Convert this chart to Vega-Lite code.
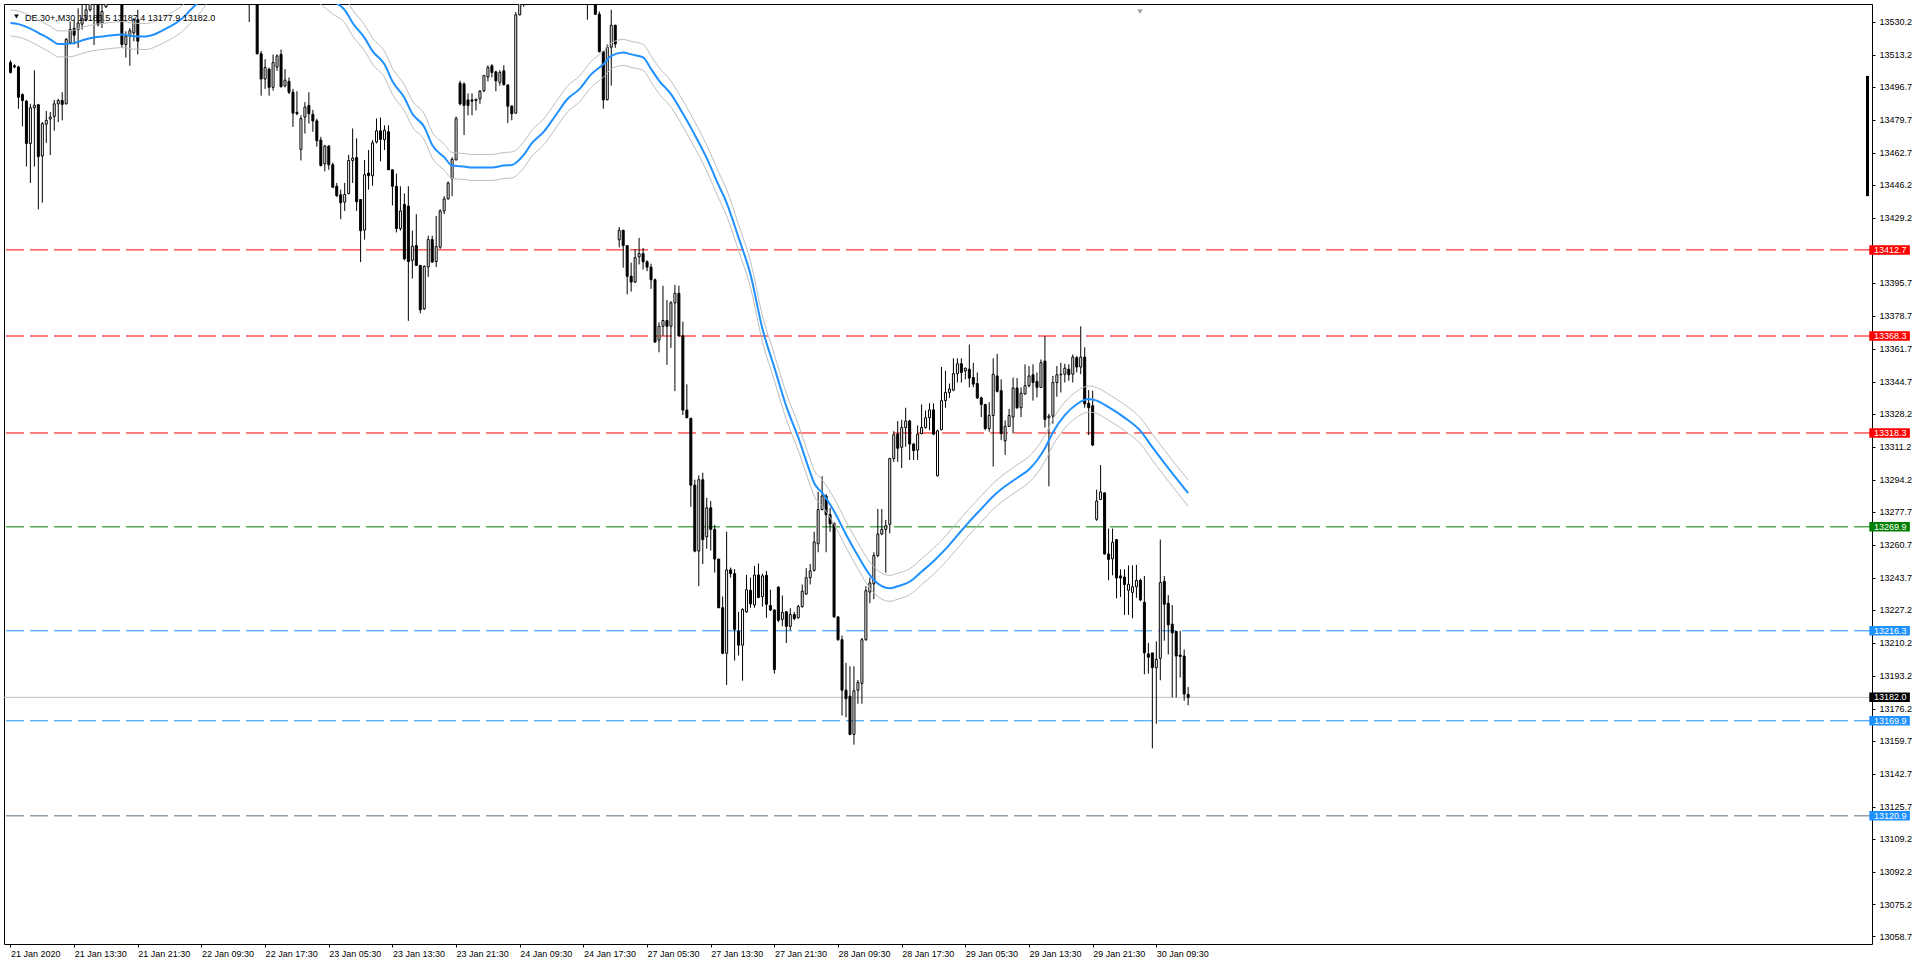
{
"$schema":"https://vega.github.io/schema/vega-lite/v6.json",
"width":1868,"height":940,
"autosize":{"type":"none"},
"padding":{"left":4,"top":4,"right":48,"bottom":23},
"background":"#ffffff",
"config":{"view":{"stroke":"#000000","strokeWidth":1},"font":"Liberation Sans"},
"resolve":{"axis":{"x":"independent","y":"independent"}},
"datasets":{
"candles":[
{"i":0,"o":13509.3,"h":13510.4,"l":13503.6,"c":13504.2},
{"i":1,"o":13507.6,"h":13508.4,"l":13506.4,"c":13507.0},
{"i":2,"o":13507.0,"h":13507.6,"l":13485.5,"c":13491.4},
{"i":3,"o":13492.8,"h":13493.4,"l":13476.4,"c":13489.7},
{"i":4,"o":13489.4,"h":13490.0,"l":13455.7,"c":13467.6},
{"i":5,"o":13467.6,"h":13488.0,"l":13447.2,"c":13486.0},
{"i":6,"o":13486.0,"h":13505.3,"l":13455.7,"c":13487.3},
{"i":7,"o":13487.5,"h":13488.0,"l":13433.6,"c":13460.8},
{"i":8,"o":13461.1,"h":13478.6,"l":13437.0,"c":13477.8},
{"i":9,"o":13477.5,"h":13484.3,"l":13467.9,"c":13479.5},
{"i":10,"o":13480.2,"h":13483.8,"l":13461.6,"c":13481.2},
{"i":11,"o":13481.5,"h":13490.0,"l":13474.1,"c":13488.0},
{"i":12,"o":13488.0,"h":13490.6,"l":13478.6,"c":13489.7},
{"i":13,"o":13489.7,"h":13494.0,"l":13479.5,"c":13487.7},
{"i":14,"o":13488.0,"h":13522.0,"l":13487.7,"c":13521.2},
{"i":15,"o":13519.5,"h":13530.5,"l":13518.9,"c":13526.3},
{"i":16,"o":13526.8,"h":13531.4,"l":13518.6,"c":13523.4},
{"i":17,"o":13526.3,"h":13537.3,"l":13516.9,"c":13529.7},
{"i":18,"o":13529.1,"h":13539.0,"l":13526.3,"c":13531.9},
{"i":19,"o":13531.4,"h":13542.4,"l":13530.5,"c":13536.5},
{"i":20,"o":13536.5,"h":13545.8,"l":13535.6,"c":13542.4},
{"i":21,"o":13542.4,"h":13545.0,"l":13518.3,"c":13541.0},
{"i":22,"o":13541.0,"h":13542.0,"l":13527.9,"c":13528.8},
{"i":23,"o":13529.7,"h":13539.0,"l":13527.1,"c":13535.6},
{"i":24,"o":13538.0,"h":13550.0,"l":13537.5,"c":13546.0},
{"i":25,"o":13546.0,"h":13556.0,"l":13543.0,"c":13552.0},
{"i":26,"o":13552.0,"h":13557.0,"l":13544.0,"c":13548.0},
{"i":27,"o":13548.0,"h":13551.0,"l":13540.0,"c":13545.0},
{"i":28,"o":13545.0,"h":13547.0,"l":13516.9,"c":13518.6},
{"i":29,"o":13518.6,"h":13525.4,"l":13511.8,"c":13522.9},
{"i":30,"o":13522.9,"h":13527.1,"l":13507.6,"c":13525.7},
{"i":31,"o":13524.6,"h":13532.2,"l":13520.3,"c":13531.4},
{"i":32,"o":13531.4,"h":13536.5,"l":13513.5,"c":13520.3},
{"i":33,"o":13548,"h":13558,"l":13545,"c":13555},
{"i":34,"o":13555,"h":13563,"l":13552,"c":13560},
{"i":35,"o":13560,"h":13564,"l":13554,"c":13557},
{"i":36,"o":13557,"h":13566,"l":13555,"c":13562},
{"i":37,"o":13562,"h":13571,"l":13560,"c":13568},
{"i":38,"o":13568,"h":13572,"l":13562,"c":13565},
{"i":39,"o":13565,"h":13574,"l":13563,"c":13570},
{"i":40,"o":13570,"h":13579,"l":13567,"c":13575},
{"i":41,"o":13575,"h":13578,"l":13569,"c":13572},
{"i":42,"o":13572,"h":13582,"l":13570,"c":13578},
{"i":43,"o":13578,"h":13581,"l":13571,"c":13574},
{"i":44,"o":13574,"h":13577,"l":13566,"c":13569},
{"i":45,"o":13569,"h":13575,"l":13565,"c":13572},
{"i":46,"o":13572,"h":13574,"l":13563,"c":13566},
{"i":47,"o":13566,"h":13569,"l":13558,"c":13561},
{"i":48,"o":13561,"h":13567,"l":13557,"c":13564},
{"i":49,"o":13564,"h":13566,"l":13555,"c":13558},
{"i":50,"o":13558,"h":13565,"l":13554,"c":13562},
{"i":51,"o":13562,"h":13570,"l":13559,"c":13567},
{"i":52,"o":13567,"h":13570,"l":13560,"c":13563},
{"i":53,"o":13563,"h":13566,"l":13555,"c":13558},
{"i":54,"o":13558,"h":13561,"l":13550,"c":13553},
{"i":55,"o":13553,"h":13559,"l":13549,"c":13556},
{"i":56,"o":13556,"h":13558,"l":13547,"c":13551},
{"i":57,"o":13551,"h":13554,"l":13544,"c":13547},
{"i":58,"o":13547,"h":13553,"l":13543,"c":13550},
{"i":59,"o":13550,"h":13552,"l":13541,"c":13545},
{"i":60,"o":13545,"h":13548,"l":13530.2,"c":13542},
{"i":61,"o":13542,"h":13549,"l":13539,"c":13546},
{"i":62,"o":13546,"h":13548,"l":13513.5,"c":13513.8},
{"i":63,"o":13513.8,"h":13515.2,"l":13492.2,"c":13500.8},
{"i":64,"o":13500.8,"h":13511.0,"l":13495.7,"c":13506.7},
{"i":65,"o":13505.9,"h":13506.7,"l":13492.2,"c":13496.5},
{"i":66,"o":13496.5,"h":13513.5,"l":13494.8,"c":13509.3},
{"i":67,"o":13507.0,"h":13513.5,"l":13505.0,"c":13512.7},
{"i":68,"o":13513.5,"h":13516.0,"l":13496.5,"c":13496.8},
{"i":69,"o":13497.3,"h":13505.9,"l":13496.5,"c":13500.2},
{"i":70,"o":13499.6,"h":13501.6,"l":13493.1,"c":13494.0},
{"i":71,"o":13494.0,"h":13495.7,"l":13476.1,"c":13483.2},
{"i":72,"o":13483.6,"h":13494.5,"l":13482.1,"c":13482.9},
{"i":73,"o":13464.5,"h":13482.1,"l":13458.8,"c":13480.4},
{"i":74,"o":13481.2,"h":13488.9,"l":13472.7,"c":13486.3},
{"i":75,"o":13487.2,"h":13494.0,"l":13477.8,"c":13482.9},
{"i":76,"o":13482.6,"h":13484.9,"l":13473.6,"c":13479.2},
{"i":77,"o":13479.2,"h":13480.4,"l":13465.9,"c":13469.0},
{"i":78,"o":13469.3,"h":13471.0,"l":13455.7,"c":13456.2},
{"i":79,"o":13457.1,"h":13466.8,"l":13453.2,"c":13466.2},
{"i":80,"o":13466.2,"h":13466.8,"l":13454.0,"c":13456.6},
{"i":81,"o":13456.6,"h":13457.7,"l":13444.7,"c":13445.0},
{"i":82,"o":13445.5,"h":13447.2,"l":13439.9,"c":13440.7},
{"i":83,"o":13441.1,"h":13443.8,"l":13428.5,"c":13437.0},
{"i":84,"o":13437.3,"h":13447.2,"l":13432.8,"c":13441.3},
{"i":85,"o":13441.8,"h":13461.7,"l":13441.3,"c":13458.8},
{"i":86,"o":13458.8,"h":13475.3,"l":13447.2,"c":13460.0},
{"i":87,"o":13460.3,"h":13470.2,"l":13432.8,"c":13437.5},
{"i":88,"o":13438.7,"h":13438.7,"l":13406.4,"c":13422.6},
{"i":89,"o":13422.9,"h":13459.1,"l":13418.0,"c":13451.5},
{"i":90,"o":13452.3,"h":13464.2,"l":13443.8,"c":13450.9},
{"i":91,"o":13450.9,"h":13469.3,"l":13445.8,"c":13467.9},
{"i":92,"o":13468.3,"h":13480.4,"l":13467.6,"c":13474.1},
{"i":93,"o":13474.1,"h":13480.9,"l":13458.3,"c":13469.6},
{"i":94,"o":13469.6,"h":13476.9,"l":13464.2,"c":13474.4},
{"i":95,"o":13473.6,"h":13476.9,"l":13454.0,"c":13454.0},
{"i":96,"o":13454.0,"h":13454.0,"l":13435.6,"c":13445.5},
{"i":97,"o":13445.5,"h":13452.0,"l":13421.7,"c":13423.7},
{"i":98,"o":13423.7,"h":13445.5,"l":13422.6,"c":13432.8},
{"i":99,"o":13436.2,"h":13441.8,"l":13407.3,"c":13408.1},
{"i":100,"o":13435.3,"h":13445.5,"l":13376.1,"c":13406.7},
{"i":101,"o":13407.3,"h":13422.6,"l":13397.9,"c":13414.6},
{"i":102,"o":13414.9,"h":13431.1,"l":13404.7,"c":13404.7},
{"i":103,"o":13404.7,"h":13404.7,"l":13380.0,"c":13381.8},
{"i":104,"o":13382.3,"h":13404.7,"l":13381.8,"c":13404.2},
{"i":105,"o":13403.9,"h":13420.0,"l":13398.8,"c":13418.0},
{"i":106,"o":13418.0,"h":13420.0,"l":13406.1,"c":13406.4},
{"i":107,"o":13406.7,"h":13430.2,"l":13403.9,"c":13414.4},
{"i":108,"o":13414.1,"h":13433.6,"l":13413.2,"c":13432.8},
{"i":109,"o":13432.8,"h":13440.4,"l":13431.1,"c":13439.0},
{"i":110,"o":13439.0,"h":13448.0,"l":13438.7,"c":13447.2},
{"i":111,"o":13449.4,"h":13460.5,"l":13440.4,"c":13459.4},
{"i":112,"o":13459.1,"h":13481.5,"l":13458.8,"c":13480.4},
{"i":113,"o":13498.7,"h":13499.9,"l":13487.2,"c":13488.0},
{"i":114,"o":13498.2,"h":13499.1,"l":13471.9,"c":13487.2},
{"i":115,"o":13490.0,"h":13493.4,"l":13482.1,"c":13487.2},
{"i":116,"o":13490.0,"h":13493.4,"l":13482.1,"c":13489.4},
{"i":117,"o":13489.7,"h":13490.6,"l":13484.6,"c":13490.4},
{"i":118,"o":13490.6,"h":13495.1,"l":13488.0,"c":13494.5},
{"i":119,"o":13494.8,"h":13503.0,"l":13494.0,"c":13502.5},
{"i":120,"o":13501.9,"h":13507.9,"l":13499.6,"c":13506.7},
{"i":121,"o":13507.6,"h":13508.4,"l":13501.6,"c":13504.2},
{"i":122,"o":13504.5,"h":13505.0,"l":13494.5,"c":13499.9},
{"i":123,"o":13499.1,"h":13505.3,"l":13497.4,"c":13504.2},
{"i":124,"o":13505.0,"h":13507.9,"l":13497.4,"c":13497.9},
{"i":125,"o":13497.7,"h":13498.2,"l":13478.1,"c":13486.8},
{"i":126,"o":13486.8,"h":13487.2,"l":13479.5,"c":13482.9},
{"i":127,"o":13483.2,"h":13535.3,"l":13482.9,"c":13533.9},
{"i":128,"o":13533.9,"h":13545.0,"l":13533.6,"c":13541.0},
{"i":129,"o":13541,"h":13552,"l":13538,"c":13548},
{"i":130,"o":13548,"h":13558,"l":13545,"c":13555},
{"i":131,"o":13555,"h":13559,"l":13547,"c":13551},
{"i":132,"o":13551,"h":13562,"l":13549,"c":13558},
{"i":133,"o":13558,"h":13566,"l":13555,"c":13563},
{"i":134,"o":13563,"h":13567,"l":13556,"c":13560},
{"i":135,"o":13560,"h":13570,"l":13558,"c":13566},
{"i":136,"o":13566,"h":13573,"l":13562,"c":13570},
{"i":137,"o":13570,"h":13574,"l":13561,"c":13565},
{"i":138,"o":13565,"h":13568,"l":13557,"c":13561},
{"i":139,"o":13561,"h":13567,"l":13556,"c":13564},
{"i":140,"o":13564,"h":13566,"l":13554,"c":13558},
{"i":141,"o":13558,"h":13561,"l":13549,"c":13553},
{"i":142,"o":13553,"h":13559,"l":13548,"c":13556},
{"i":143,"o":13556,"h":13558,"l":13546,"c":13550},
{"i":144,"o":13550,"h":13553,"l":13541,"c":13545},
{"i":145,"o":13545,"h":13548,"l":13531.4,"c":13542},
{"i":146,"o":13542,"h":13549,"l":13539,"c":13546},
{"i":147,"o":13546,"h":13548,"l":13533.9,"c":13534.2},
{"i":148,"o":13534.2,"h":13535.6,"l":13514.5,"c":13514.9},
{"i":149,"o":13514.9,"h":13515.2,"l":13485.5,"c":13490.0},
{"i":150,"o":13490.2,"h":13518.6,"l":13489.7,"c":13517.2},
{"i":151,"o":13517.2,"h":13536.5,"l":13497.4,"c":13528.5},
{"i":152,"o":13528.5,"h":13528.8,"l":13516.9,"c":13518.9},
{"i":153,"o":13417.9,"h":13424.5,"l":13414.0,"c":13422.8},
{"i":154,"o":13422.8,"h":13423.1,"l":13403.5,"c":13414.9},
{"i":155,"o":13414.9,"h":13414.9,"l":13389.8,"c":13399.1},
{"i":156,"o":13399.1,"h":13406.1,"l":13391.2,"c":13396.1},
{"i":157,"o":13396.1,"h":13413.1,"l":13395.6,"c":13408.7},
{"i":158,"o":13409.1,"h":13418.9,"l":13405.2,"c":13410.8},
{"i":159,"o":13410.8,"h":13413.7,"l":13402.6,"c":13406.6},
{"i":160,"o":13406.6,"h":13407.3,"l":13401.7,"c":13403.8},
{"i":161,"o":13403.8,"h":13405.6,"l":13392.6,"c":13397.3},
{"i":162,"o":13397.3,"h":13397.9,"l":13364.8,"c":13365.2},
{"i":163,"o":13366.2,"h":13375.4,"l":13359.9,"c":13373.3},
{"i":164,"o":13373.3,"h":13394.2,"l":13368.4,"c":13376.3},
{"i":165,"o":13376.3,"h":13386.8,"l":13353.4,"c":13373.3},
{"i":166,"o":13373.3,"h":13386.3,"l":13362.2,"c":13385.4},
{"i":167,"o":13385.4,"h":13394.7,"l":13339.9,"c":13390.3},
{"i":168,"o":13390.3,"h":13394.2,"l":13368.0,"c":13368.4},
{"i":169,"o":13368.4,"h":13375.7,"l":13327.6,"c":13330.1},
{"i":170,"o":13330.1,"h":13343.4,"l":13325.9,"c":13326.2},
{"i":171,"o":13325.9,"h":13325.9,"l":13280.2,"c":13291.4},
{"i":172,"o":13291.4,"h":13294.2,"l":13256.8,"c":13257.4},
{"i":173,"o":13257.4,"h":13296.4,"l":13239.3,"c":13294.2},
{"i":174,"o":13294.2,"h":13297.8,"l":13250.7,"c":13263.3},
{"i":175,"o":13264.8,"h":13284.9,"l":13258.6,"c":13279.7},
{"i":176,"o":13279.7,"h":13283.2,"l":13257.7,"c":13268.6},
{"i":177,"o":13268.6,"h":13270.9,"l":13246.3,"c":13253.3},
{"i":178,"o":13253.3,"h":13253.3,"l":13227.9,"c":13228.2},
{"i":179,"o":13228.2,"h":13234.0,"l":13204.2,"c":13204.7},
{"i":180,"o":13204.7,"h":13267.4,"l":13188.4,"c":13247.7},
{"i":181,"o":13247.7,"h":13248.9,"l":13243.7,"c":13245.8},
{"i":182,"o":13245.8,"h":13248.1,"l":13201.0,"c":13217.0},
{"i":183,"o":13216.1,"h":13226.1,"l":13203.6,"c":13208.9},
{"i":184,"o":13208.9,"h":13227.9,"l":13190.6,"c":13227.3},
{"i":185,"o":13226.1,"h":13245.1,"l":13225.6,"c":13237.5},
{"i":186,"o":13237.2,"h":13243.7,"l":13228.2,"c":13230.2},
{"i":187,"o":13229.6,"h":13249.8,"l":13228.2,"c":13245.1},
{"i":188,"o":13245.1,"h":13251.0,"l":13233.1,"c":13233.5},
{"i":189,"o":13234.0,"h":13245.8,"l":13228.8,"c":13244.6},
{"i":190,"o":13244.9,"h":13247.2,"l":13223.0,"c":13230.0},
{"i":191,"o":13229.3,"h":13237.5,"l":13226.5,"c":13227.0},
{"i":192,"o":13227.0,"h":13227.5,"l":13194.2,"c":13196.3},
{"i":193,"o":13238.8,"h":13239.3,"l":13220.8,"c":13221.7},
{"i":194,"o":13222.2,"h":13234.5,"l":13218.7,"c":13225.8},
{"i":195,"o":13226.1,"h":13226.5,"l":13210.0,"c":13218.6},
{"i":196,"o":13218.6,"h":13227.9,"l":13216.5,"c":13224.7},
{"i":197,"o":13224.7,"h":13226.1,"l":13221.7,"c":13222.6},
{"i":198,"o":13223.0,"h":13229.6,"l":13222.6,"c":13228.8},
{"i":199,"o":13228.8,"h":13240.2,"l":13228.2,"c":13236.7},
{"i":200,"o":13235.2,"h":13248.6,"l":13234.9,"c":13243.7},
{"i":201,"o":13243.7,"h":13250.7,"l":13240.2,"c":13247.2},
{"i":202,"o":13247.5,"h":13267.4,"l":13246.8,"c":13262.1},
{"i":203,"o":13261.2,"h":13287.9,"l":13256.8,"c":13278.8},
{"i":204,"o":13278.8,"h":13296.0,"l":13278.4,"c":13285.8},
{"i":205,"o":13285.8,"h":13286.7,"l":13256.8,"c":13276.2},
{"i":206,"o":13276.2,"h":13279.7,"l":13267.4,"c":13271.4},
{"i":207,"o":13271.8,"h":13272.1,"l":13223.0,"c":13223.5},
{"i":208,"o":13223.5,"h":13223.5,"l":13211.2,"c":13211.7},
{"i":209,"o":13211.7,"h":13213.8,"l":13172.6,"c":13185.7},
{"i":210,"o":13185.7,"h":13199.8,"l":13171.7,"c":13181.3},
{"i":211,"o":13182.6,"h":13198.0,"l":13162.4,"c":13162.9},
{"i":212,"o":13162.9,"h":13198.0,"l":13157.6,"c":13185.4},
{"i":213,"o":13185.7,"h":13191.0,"l":13178.7,"c":13189.6},
{"i":214,"o":13189.2,"h":13212.6,"l":13178.7,"c":13211.7},
{"i":215,"o":13211.7,"h":13239.3,"l":13211.2,"c":13237.0},
{"i":216,"o":13236.3,"h":13243.7,"l":13230.5,"c":13241.0},
{"i":217,"o":13240.5,"h":13256.8,"l":13232.6,"c":13255.1},
{"i":218,"o":13255.1,"h":13279.1,"l":13254.2,"c":13266.2},
{"i":219,"o":13266.2,"h":13279.1,"l":13265.6,"c":13268.6},
{"i":220,"o":13268.6,"h":13273.5,"l":13246.3,"c":13270.5},
{"i":221,"o":13271.2,"h":13305.5,"l":13266.5,"c":13305.1},
{"i":222,"o":13305.1,"h":13319.2,"l":13303.4,"c":13317.4},
{"i":223,"o":13317.8,"h":13324.5,"l":13303.4,"c":13310.4},
{"i":224,"o":13310.9,"h":13325.1,"l":13300.2,"c":13321.1},
{"i":225,"o":13321.1,"h":13331.3,"l":13311.2,"c":13324.5},
{"i":226,"o":13324.5,"h":13325.1,"l":13304.4,"c":13312.6},
{"i":227,"o":13312.6,"h":13313.2,"l":13304.4,"c":13309.2},
{"i":228,"o":13309.5,"h":13322.2,"l":13304.4,"c":13317.7},
{"i":229,"o":13318.0,"h":13333.0,"l":13317.7,"c":13321.1},
{"i":230,"o":13321.1,"h":13329.9,"l":13320.6,"c":13326.2},
{"i":231,"o":13326.2,"h":13333.6,"l":13319.7,"c":13330.2},
{"i":232,"o":13330.2,"h":13333.6,"l":13317.2,"c":13317.7},
{"i":233,"o":13296.2,"h":13320.0,"l":13295.9,"c":13319.4},
{"i":234,"o":13320.0,"h":13352.3,"l":13319.7,"c":13335.0},
{"i":235,"o":13335.0,"h":13350.3,"l":13331.3,"c":13339.2},
{"i":236,"o":13339.2,"h":13343.8,"l":13336.4,"c":13341.0},
{"i":237,"o":13340.4,"h":13356.8,"l":13339.8,"c":13348.9},
{"i":238,"o":13348.9,"h":13356.8,"l":13344.3,"c":13354.0},
{"i":239,"o":13354.0,"h":13356.8,"l":13344.3,"c":13349.5},
{"i":240,"o":13350.3,"h":13352.0,"l":13346.0,"c":13351.7},
{"i":241,"o":13351.2,"h":13363.9,"l":13341.8,"c":13346.6},
{"i":242,"o":13346.9,"h":13354.5,"l":13341.8,"c":13343.5},
{"i":243,"o":13343.8,"h":13349.5,"l":13335.8,"c":13336.4},
{"i":244,"o":13336.4,"h":13337.0,"l":13326.5,"c":13333.0},
{"i":245,"o":13333.0,"h":13333.3,"l":13319.7,"c":13320.6},
{"i":246,"o":13320.6,"h":13334.2,"l":13318.9,"c":13327.3},
{"i":247,"o":13327.3,"h":13356.8,"l":13301.0,"c":13348.6},
{"i":248,"o":13347.7,"h":13359.1,"l":13339.2,"c":13339.8},
{"i":249,"o":13340.1,"h":13346.0,"l":13314.6,"c":13318.0},
{"i":250,"o":13314.3,"h":13324.8,"l":13307.0,"c":13321.7},
{"i":251,"o":13321.7,"h":13330.7,"l":13321.4,"c":13327.3},
{"i":252,"o":13326.5,"h":13346.9,"l":13318.0,"c":13341.5},
{"i":253,"o":13341.5,"h":13346.6,"l":13330.7,"c":13331.3},
{"i":254,"o":13331.3,"h":13341.8,"l":13326.5,"c":13338.7},
{"i":255,"o":13338.4,"h":13353.7,"l":13338.1,"c":13342.7},
{"i":256,"o":13342.7,"h":13352.8,"l":13341.8,"c":13347.7},
{"i":257,"o":13348.3,"h":13353.7,"l":13335.0,"c":13344.3},
{"i":258,"o":13344.9,"h":13349.5,"l":13336.7,"c":13341.8},
{"i":259,"o":13341.8,"h":13356.2,"l":13341.8,"c":13354.5},
{"i":260,"o":13355.4,"h":13368.2,"l":13321.1,"c":13325.3},
{"i":261,"o":13326.2,"h":13328.2,"l":13290.8,"c":13327.0},
{"i":262,"o":13327.0,"h":13347.7,"l":13323.1,"c":13344.3},
{"i":263,"o":13344.3,"h":13352.8,"l":13337.0,"c":13348.3},
{"i":264,"o":13348.3,"h":13354.5,"l":13339.2,"c":13348.6},
{"i":265,"o":13348.6,"h":13354.0,"l":13344.3,"c":13351.7},
{"i":266,"o":13351.2,"h":13353.7,"l":13345.2,"c":13348.3},
{"i":267,"o":13348.6,"h":13358.8,"l":13344.3,"c":13357.4},
{"i":268,"o":13357.1,"h":13358.0,"l":13349.5,"c":13352.3},
{"i":269,"o":13352.3,"h":13373.3,"l":13348.6,"c":13357.4},
{"i":270,"o":13357.4,"h":13362.5,"l":13331.3,"c":13333.3},
{"i":271,"o":13333.6,"h":13340.4,"l":13317.2,"c":13331.3},
{"i":272,"o":13332.4,"h":13340.1,"l":13311.5,"c":13312.1},
{"i":273,"o":13273.8,"h":13289.1,"l":13273.0,"c":13283.2},
{"i":274,"o":13284.0,"h":13301.8,"l":13284.0,"c":13287.9},
{"i":275,"o":13287.4,"h":13287.7,"l":13255.6,"c":13255.9},
{"i":276,"o":13255.9,"h":13269.0,"l":13242.4,"c":13253.1},
{"i":277,"o":13253.4,"h":13269.0,"l":13244.9,"c":13261.9},
{"i":278,"o":13263.3,"h":13263.6,"l":13233.0,"c":13243.5},
{"i":279,"o":13244.6,"h":13248.0,"l":13233.8,"c":13243.5},
{"i":280,"o":13244.0,"h":13248.0,"l":13224.5,"c":13240.1},
{"i":281,"o":13237.2,"h":13250.0,"l":13224.5,"c":13240.3},
{"i":282,"o":13236.1,"h":13250.0,"l":13222.8,"c":13239.0},
{"i":283,"o":13239.0,"h":13250.3,"l":13233.3,"c":13242.3},
{"i":284,"o":13242.3,"h":13243.2,"l":13231.6,"c":13232.2},
{"i":285,"o":13231.0,"h":13244.6,"l":13193.9,"c":13204.9},
{"i":286,"o":13204.4,"h":13210.1,"l":13194.2,"c":13202.7},
{"i":287,"o":13204.9,"h":13204.9,"l":13155.7,"c":13197.3},
{"i":288,"o":13197.3,"h":13210.9,"l":13168.4,"c":13201.6},
{"i":289,"o":13202.1,"h":13263.3,"l":13190.8,"c":13241.2},
{"i":290,"o":13241.8,"h":13244.6,"l":13211.2,"c":13230.0},
{"i":291,"o":13230.5,"h":13234.7,"l":13204.1,"c":13219.4},
{"i":292,"o":13219.7,"h":13229.6,"l":13182.0,"c":13215.2},
{"i":293,"o":13216.0,"h":13216.3,"l":13182.0,"c":13203.3},
{"i":294,"o":13203.8,"h":13216.3,"l":13192.2,"c":13203.1},
{"i":295,"o":13203.3,"h":13206.7,"l":13180.3,"c":13183.7},
{"i":296,"o":13183.5,"h":13187.4,"l":13177.9,"c":13182.0}
],
"ma":[
{"i":0,"ma":13529.7,"up":13536.4,"dn":13523.0},
{"i":2,"ma":13529.1,"up":13535.8,"dn":13522.4},
{"i":5,"ma":13526.8,"up":13533.5,"dn":13520.1},
{"i":7,"ma":13524.6,"up":13531.3,"dn":13517.9},
{"i":10,"ma":13521.3,"up":13528.0,"dn":13514.6},
{"i":12,"ma":13518.9,"up":13525.6,"dn":13512.2},
{"i":14,"ma":13518.9,"up":13525.6,"dn":13512.2},
{"i":16,"ma":13519.3,"up":13526.0,"dn":13512.6},
{"i":17,"ma":13520.0,"up":13526.7,"dn":13513.3},
{"i":19,"ma":13521.3,"up":13528.0,"dn":13514.6},
{"i":21,"ma":13522.2,"up":13528.9,"dn":13515.5},
{"i":23,"ma":13522.7,"up":13529.4,"dn":13516.0},
{"i":25,"ma":13523.2,"up":13529.9,"dn":13516.5},
{"i":28,"ma":13523.7,"up":13530.4,"dn":13517.0},
{"i":31,"ma":13522.9,"up":13529.6,"dn":13516.2},
{"i":34,"ma":13522.7,"up":13529.4,"dn":13516.0},
{"i":36,"ma":13523.7,"up":13530.4,"dn":13517.0},
{"i":38,"ma":13525.6,"up":13532.3,"dn":13518.9},
{"i":40,"ma":13527.8,"up":13534.5,"dn":13521.1},
{"i":42,"ma":13530.2,"up":13536.9,"dn":13523.5},
{"i":44,"ma":13533.6,"up":13540.3,"dn":13526.9},
{"i":45,"ma":13535.9,"up":13542.6,"dn":13529.2},
{"i":47,"ma":13540.0,"up":13546.7,"dn":13533.3},
{"i":50,"ma":13548.0,"up":13554.7,"dn":13541.3},
{"i":54,"ma":13556.0,"up":13562.7,"dn":13549.3},
{"i":58,"ma":13561.0,"up":13567.7,"dn":13554.3},
{"i":62,"ma":13564.0,"up":13570.7,"dn":13557.3},
{"i":66,"ma":13564.0,"up":13570.7,"dn":13557.3},
{"i":70,"ma":13560.0,"up":13566.7,"dn":13553.3},
{"i":74,"ma":13553.0,"up":13559.7,"dn":13546.3},
{"i":78,"ma":13546.0,"up":13552.7,"dn":13539.3},
{"i":81,"ma":13541.0,"up":13547.7,"dn":13534.3},
{"i":84,"ma":13536.5,"up":13543.2,"dn":13529.8},
{"i":86,"ma":13529.7,"up":13536.4,"dn":13523.0},
{"i":89,"ma":13522.0,"up":13528.7,"dn":13515.3},
{"i":91,"ma":13515.2,"up":13521.9,"dn":13508.5},
{"i":94,"ma":13508.4,"up":13515.1,"dn":13501.7},
{"i":96,"ma":13499.6,"up":13506.3,"dn":13492.9},
{"i":99,"ma":13491.1,"up":13497.8,"dn":13484.4},
{"i":101,"ma":13482.9,"up":13489.6,"dn":13476.2},
{"i":104,"ma":13476.1,"up":13482.8,"dn":13469.4},
{"i":106,"ma":13466.8,"up":13473.5,"dn":13460.1},
{"i":109,"ma":13460.5,"up":13467.2,"dn":13453.8},
{"i":111,"ma":13456.2,"up":13462.9,"dn":13449.5},
{"i":114,"ma":13455.7,"up":13462.4,"dn":13449.0},
{"i":116,"ma":13455.2,"up":13461.9,"dn":13448.5},
{"i":121,"ma":13455.2,"up":13461.9,"dn":13448.5},
{"i":124,"ma":13456.2,"up":13462.9,"dn":13449.5},
{"i":126,"ma":13456.5,"up":13463.2,"dn":13449.8},
{"i":129,"ma":13461.7,"up":13468.4,"dn":13455.0},
{"i":131,"ma":13467.6,"up":13474.3,"dn":13460.9},
{"i":134,"ma":13473.5,"up":13480.2,"dn":13466.8},
{"i":137,"ma":13482.0,"up":13488.7,"dn":13475.3},
{"i":140,"ma":13490.5,"up":13497.2,"dn":13483.8},
{"i":143,"ma":13495.6,"up":13502.3,"dn":13488.9},
{"i":146,"ma":13503.3,"up":13510.0,"dn":13496.6},
{"i":149,"ma":13508.4,"up":13515.1,"dn":13501.7},
{"i":151,"ma":13512.7,"up":13519.4,"dn":13506.0},
{"i":154,"ma":13514.5,"up":13521.2,"dn":13507.8},
{"i":156,"ma":13513.5,"up":13520.2,"dn":13506.8},
{"i":159,"ma":13512.0,"up":13518.7,"dn":13505.3},
{"i":161,"ma":13506.0,"up":13512.7,"dn":13499.3},
{"i":163,"ma":13500.0,"up":13506.7,"dn":13493.3},
{"i":166,"ma":13493.0,"up":13499.7,"dn":13486.3},
{"i":169,"ma":13483.0,"up":13489.7,"dn":13476.3},
{"i":172,"ma":13472.0,"up":13478.7,"dn":13465.3},
{"i":175,"ma":13460.0,"up":13466.7,"dn":13453.3},
{"i":178,"ma":13446.0,"up":13452.7,"dn":13439.3},
{"i":180,"ma":13437.0,"up":13443.7,"dn":13430.3},
{"i":183,"ma":13419.0,"up":13425.7,"dn":13412.3},
{"i":186,"ma":13400.0,"up":13406.7,"dn":13393.3},
{"i":189,"ma":13372.0,"up":13378.7,"dn":13365.3},
{"i":192,"ma":13352.0,"up":13358.7,"dn":13345.3},
{"i":195,"ma":13332.0,"up":13338.7,"dn":13325.3},
{"i":198,"ma":13316.0,"up":13322.7,"dn":13309.3},
{"i":201,"ma":13298.0,"up":13304.7,"dn":13291.3},
{"i":202,"ma":13292.5,"up":13299.2,"dn":13285.8},
{"i":204,"ma":13287.5,"up":13294.2,"dn":13280.8},
{"i":207,"ma":13278.0,"up":13284.7,"dn":13271.3},
{"i":210,"ma":13266.0,"up":13272.7,"dn":13259.3},
{"i":213,"ma":13255.0,"up":13261.7,"dn":13248.3},
{"i":216,"ma":13245.0,"up":13251.7,"dn":13238.3},
{"i":219,"ma":13239.3,"up":13246.0,"dn":13232.6},
{"i":221,"ma":13238.2,"up":13244.9,"dn":13231.5},
{"i":223,"ma":13239.3,"up":13246.0,"dn":13232.6},
{"i":226,"ma":13241.6,"up":13248.3,"dn":13234.9},
{"i":229,"ma":13246.8,"up":13253.5,"dn":13240.1},
{"i":232,"ma":13252.2,"up":13258.9,"dn":13245.5},
{"i":235,"ma":13258.4,"up":13265.1,"dn":13251.7},
{"i":238,"ma":13265.5,"up":13272.2,"dn":13258.8},
{"i":241,"ma":13272.6,"up":13279.3,"dn":13265.9},
{"i":244,"ma":13279.2,"up":13285.9,"dn":13272.5},
{"i":247,"ma":13285.7,"up":13292.4,"dn":13279.0},
{"i":250,"ma":13290.8,"up":13297.5,"dn":13284.1},
{"i":253,"ma":13295.1,"up":13301.8,"dn":13288.4},
{"i":256,"ma":13299.5,"up":13306.2,"dn":13292.8},
{"i":258,"ma":13304.1,"up":13310.8,"dn":13297.4},
{"i":260,"ma":13310.4,"up":13317.1,"dn":13303.7},
{"i":262,"ma":13318.6,"up":13325.3,"dn":13311.9},
{"i":265,"ma":13327.5,"up":13334.2,"dn":13320.8},
{"i":268,"ma":13333.1,"up":13339.8,"dn":13326.4},
{"i":271,"ma":13335.8,"up":13342.5,"dn":13329.1},
{"i":273,"ma":13335.0,"up":13341.7,"dn":13328.3},
{"i":276,"ma":13331.6,"up":13338.3,"dn":13324.9},
{"i":280,"ma":13326.2,"up":13332.9,"dn":13319.5},
{"i":284,"ma":13319.4,"up":13326.1,"dn":13312.7},
{"i":287,"ma":13311.0,"up":13317.7,"dn":13304.3},
{"i":291,"ma":13300.2,"up":13306.9,"dn":13293.5},
{"i":296,"ma":13287.3,"up":13294.0,"dn":13280.6}
],
"levels":[
{"v":13412.7,"kind":"red"},
{"v":13368.3,"kind":"red"},
{"v":13318.3,"kind":"red"},
{"v":13269.9,"kind":"green"},
{"v":13216.3,"kind":"blue"},
{"v":13169.9,"kind":"blue"},
{"v":13120.9,"kind":"gray"}
],
"tags":[
{"v":13412.7,"kind":"red"},
{"v":13368.3,"kind":"red"},
{"v":13318.3,"kind":"red"},
{"v":13269.9,"kind":"green"},
{"v":13216.3,"kind":"blue"},
{"v":13182.0,"kind":"black"},
{"v":13169.9,"kind":"blue"},
{"v":13120.9,"kind":"blue"}
]
},
"layer":[
{"data":{"name":"levels"},
 "mark":{"type":"rule","strokeWidth":1,"strokeDash":[18,6]},
 "encoding":{
  "y":{"field":"v","type":"quantitative","scale":{"domain":[13057.4,13536.9],"nice":false,"zero":false},"axis":null},
  "color":{"field":"kind","type":"nominal","scale":{"domain":["red","green","blue","gray","black"],"range":["#FF0000","#008000","#1E90FF","#5F6F82","#000000"]},"legend":null}
 }},
{"data":{"values":[{"v":13182.0}]},
 "mark":{"type":"rule","strokeWidth":1,"color":"#C0C0C0"},
 "encoding":{"y":{"field":"v","type":"quantitative","axis":null}}},
{"data":{"name":"candles"},
 "mark":{"type":"rule","strokeWidth":1,"color":"#000000","clip":true},
 "encoding":{
  "x":{"field":"i","type":"quantitative","scale":{"domain":[-0.375,466.625],"nice":false,"zero":false},
   "axis":{"values":[0,16,32,48,64,80,96,112,128,144,160,176,192,208,224,240,256,272,288],"labelExpr":"['21 Jan 2020','21 Jan 13:30','21 Jan 21:30','22 Jan 09:30','22 Jan 17:30','23 Jan 05:30','23 Jan 13:30','23 Jan 21:30','24 Jan 09:30','24 Jan 17:30','27 Jan 05:30','27 Jan 13:30','27 Jan 21:30','28 Jan 09:30','28 Jan 17:30','29 Jan 05:30','29 Jan 13:30','29 Jan 21:30','30 Jan 09:30'][round(datum.value/16)]","labelAlign":"left","labelFont":"Liberation Sans","labelFontSize":9,"labelColor":"#000000","labelPadding":2,"labelFlush":false,"labelOverlap":false,"tickSize":3,"tickColor":"#000000","domain":false,"grid":false,"title":null}},
  "y":{"field":"l","type":"quantitative",
   "axis":{"orient":"right","values":[13530.2,13513.2,13496.7,13479.7,13462.7,13446.2,13429.2,13395.7,13378.7,13361.7,13344.7,13328.2,13311.2,13294.2,13277.7,13260.7,13243.7,13227.2,13210.2,13193.2,13176.2,13159.7,13142.7,13125.7,13109.2,13092.2,13075.2,13058.7],"format":".1f","labelFont":"Liberation Sans","labelFontSize":9,"labelColor":"#000000","labelPadding":4,"labelFlush":false,"labelOverlap":false,"tickSize":3,"tickColor":"#000000","domain":false,"grid":false,"title":null}},
  "y2":{"field":"h"}}},
{"data":{"name":"candles"},
 "mark":{"type":"bar","size":2,"stroke":"#000000","strokeWidth":1,"clip":true},
 "encoding":{"x":{"field":"i","type":"quantitative","axis":null},"y":{"field":"o","type":"quantitative","axis":null},"y2":{"field":"c"},
  "fill":{"condition":{"test":"datum.c < datum.o","value":"#000000"},"value":"#FFFFFF"}}},
{"data":{"name":"ma"},
 "mark":{"type":"line","strokeWidth":1,"color":"#BEBEBE","clip":true,"interpolate":"monotone"},
 "encoding":{"x":{"field":"i","type":"quantitative","axis":null},"y":{"field":"up","type":"quantitative","axis":null}}},
{"data":{"name":"ma"},
 "mark":{"type":"line","strokeWidth":1,"color":"#BEBEBE","clip":true,"interpolate":"monotone"},
 "encoding":{"x":{"field":"i","type":"quantitative","axis":null},"y":{"field":"dn","type":"quantitative","axis":null}}},
{"data":{"name":"ma"},
 "mark":{"type":"line","strokeWidth":2,"color":"#1E90FF","clip":true,"interpolate":"monotone"},
 "encoding":{"x":{"field":"i","type":"quantitative","axis":null},"y":{"field":"ma","type":"quantitative","axis":null}}},
{"data":{"values":[{"a":13502.4,"b":13440.4}]},
 "mark":{"type":"rule","strokeWidth":3,"color":"#000000"},
 "encoding":{"x":{"datum":466.75,"type":"quantitative","axis":null},"y":{"field":"a","type":"quantitative","axis":null},"y2":{"field":"b"}}},
{"data":{"values":[{"p":13535.6}]},
 "mark":{"type":"point","shape":"triangle-down","filled":true,"size":30,"color":"#A0A0A0","opacity":1},
 "encoding":{"x":{"datum":283.9,"type":"quantitative","axis":null},"y":{"field":"p","type":"quantitative","axis":null}}},
{"data":{"values":[{"p":13533.0}]},
 "mark":{"type":"point","shape":"triangle-down","filled":true,"size":22,"color":"#000000","opacity":1},
 "encoding":{"x":{"datum":1.5,"type":"quantitative","axis":null},"y":{"field":"p","type":"quantitative","axis":null}}},
{"data":{"values":[{"p":13532.5,"txt":"DE.30+,M30  13183.5 13187.4 13177.9 13182.0"}]},
 "mark":{"type":"text","align":"left","baseline":"middle","font":"Liberation Sans","fontSize":9,"color":"#000000"},
 "encoding":{"x":{"datum":3.625,"type":"quantitative","axis":null},"y":{"field":"p","type":"quantitative","axis":null},"text":{"field":"txt"}}},
{"data":{"name":"tags"},
 "mark":{"type":"bar","orient":"horizontal","size":9.5},
 "encoding":{"x":{"datum":467.2,"type":"quantitative","axis":null},"x2":{"datum":477.4},"y":{"field":"v","type":"quantitative","axis":null},
  "color":{"field":"kind","type":"nominal","scale":{"domain":["red","green","blue","gray","black"],"range":["#FF0000","#008000","#1E90FF","#5F6F82","#000000"]},"legend":null}}},
{"data":{"name":"tags"},
 "mark":{"type":"text","align":"left","baseline":"middle","font":"Liberation Sans","fontSize":9,"color":"#FFFFFF"},
 "encoding":{"x":{"datum":468.4,"type":"quantitative","axis":null},"y":{"field":"v","type":"quantitative","axis":null},"text":{"field":"v","type":"quantitative","format":".1f"}}}
]
}
